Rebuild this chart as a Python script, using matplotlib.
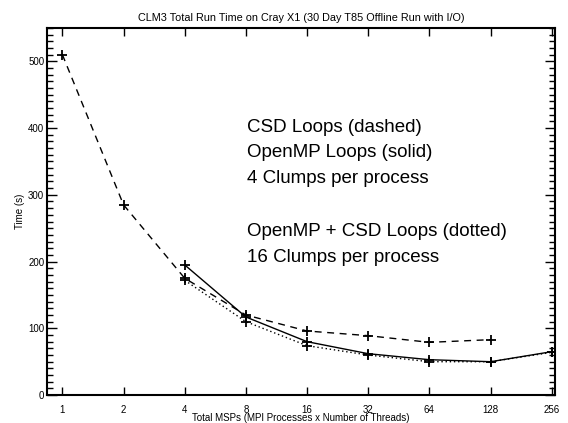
import matplotlib
matplotlib.use('Agg')
import matplotlib.pyplot as plt
from matplotlib.ticker import MultipleLocator, FixedLocator, NullLocator

plt.rcParams['font.family'] = ['Liberation Sans', 'DejaVu Sans']

msps_csd = [1, 2, 4, 8, 16, 32, 64, 128]
time_csd = [510, 285, 175, 120, 96, 89, 79, 83]
msps_omp = [4, 8, 16, 32, 64, 128, 256]
time_omp = [195, 117, 80, 62, 53, 50, 65]
msps_both = [4, 8, 16, 32, 64, 128, 256]
time_both = [172, 110, 74, 60, 50, 50, 64]
xticks = [1, 2, 4, 8, 16, 32, 64, 128, 256]

fig = plt.figure(figsize=(5.68, 4.23), dpi=100)
ax = fig.add_axes([0.0827, 0.066, 0.894, 0.868])

ax.plot(msps_csd, time_csd, color='black', ls=(0, (5, 4)), lw=1,
        marker='+', ms=6.5, mew=1.3)
ax.plot(msps_omp, time_omp, color='black', ls='-', lw=1,
        marker='+', ms=6.5, mew=1.3)
ax.plot(msps_both, time_both, color='black', ls=(0, (1, 2)), lw=1,
        marker='+', ms=6.5, mew=1.3)

ax.set_xscale('log', base=2)
ax.set_xlim(0.84, 265)
ax.set_ylim(0, 550)
ax.xaxis.set_major_locator(FixedLocator(xticks))
ax.xaxis.set_minor_locator(NullLocator())
ax.set_xticklabels([str(v) for v in xticks])
ax.yaxis.set_major_locator(MultipleLocator(100))
ax.yaxis.set_minor_locator(MultipleLocator(10))

ax.tick_params(axis='both', which='both', direction='in', labelsize=7,
               top=True, right=True, width=1)
ax.tick_params(axis='x', which='major', length=6, pad=7)
ax.tick_params(axis='y', which='major', length=7, pad=2)
ax.tick_params(axis='y', which='minor', length=4)
for s in ax.spines.values():
    s.set_linewidth(1.5)

ax.set_title('CLM3 Total Run Time on Cray X1 (30 Day T85 Offline Run with I/O)',
             fontsize=7.8, pad=5)
ax.set_xlabel('Total MSPs (MPI Processes x Number of Threads)', fontsize=7, labelpad=-1)
ax.set_ylabel('Time (s)', fontsize=7, labelpad=2)

notes = [('CSD Loops (dashed)', 128), ('OpenMP Loops (solid)', 153),
         ('4 Clumps per process', 179), ('OpenMP + CSD Loops (dotted)', 231),
         ('16 Clumps per process', 257)]
for txt, py in notes:
    ax.text(0.394, (395 - py) / 367, txt, transform=ax.transAxes,
            fontsize=13.5, va='center', ha='left')

fig.savefig('out.png', dpi=100)
